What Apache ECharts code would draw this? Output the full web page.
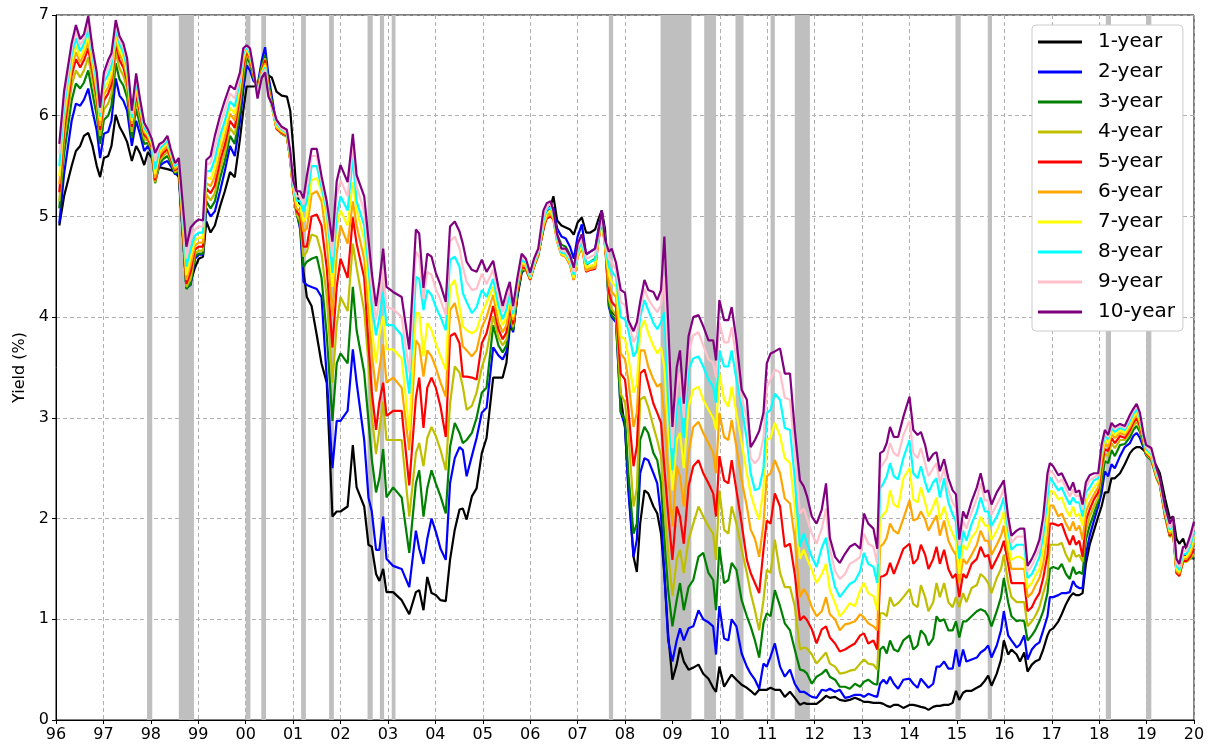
<!DOCTYPE html>
<html><head><meta charset="utf-8">
<script src="https://cdn.jsdelivr.net/npm/echarts@6/dist/echarts.min.js"></script>
<style>html,body{margin:0;padding:0;background:#fff}#c{width:1215px;height:749px}</style>
</head><body><div id="c"></div>
<script>
const dates = [
1996.07,1996.17,1996.33,1996.42,1996.51,1996.59,1996.68,1996.77,1996.86,1996.93,
1997.01,1997.10,1997.17,1997.26,1997.34,1997.42,1997.50,1997.60,1997.69,1997.77,
1997.86,1997.94,1998.02,1998.09,1998.18,1998.26,1998.35,1998.42,1998.51,1998.59,
1998.75,1998.84,1998.93,1999.01,1999.10,1999.17,1999.26,
1999.35,1999.46,1999.56,1999.67,1999.77,1999.88,1999.95,2000.02,2000.09,2000.16,
2000.25,2000.34,2000.41,2000.48,2000.55,2000.65,2000.76,2000.87,2000.94,2001.00,
2001.07,2001.15,2001.22,2001.29,2001.39,2001.50,2001.60,2001.71,2001.83,2001.92,
2002.00,2002.15,2002.26,2002.34,2002.50,2002.59,2002.66,2002.75,2002.82,2002.90,
2002.97,2003.11,2003.29,2003.45,2003.59,2003.66,2003.75,2003.83,2003.92,2004.01,
2004.11,2004.22,2004.31,2004.41,2004.51,2004.58,2004.66,2004.77,2004.87,2004.98,
2005.08,
2005.22,2005.33,2005.42,2005.50,2005.57,2005.64,2005.73,2005.82,2005.91,2006.00,
2006.08,2006.17,2006.28,2006.35,2006.43,2006.49,2006.57,2006.66,2006.75,2006.84,
2006.92,2007.00,2007.09,2007.18,2007.27,2007.37,2007.43,2007.51,2007.58,2007.66,
2007.72,2007.81,
2007.91,2008.00,2008.07,2008.18,2008.25,2008.32,2008.41,2008.49,2008.60,2008.68,
2008.76,2008.83,2008.91,2009.00,2009.09,2009.16,2009.24,2009.34,2009.44,2009.55,
2009.65,2009.76,2009.86,2009.92,2009.99,2010.09,2010.18,2010.25,2010.35,2010.46,
2010.57,2010.65,2010.74,2010.83,2010.92,2010.99,2011.07,2011.16,2011.27,2011.37,
2011.48,2011.58,2011.69,2011.77,2011.84,2011.94,2012.04,2012.15,2012.24,2012.32,
2012.43,2012.53,2012.64,2012.74,2012.85,2012.96,2013.04,2013.13,2013.24,2013.32,
2013.38,2013.45,2013.52,2013.59,2013.67,2013.76,2013.87,
2014.00,2014.08,2014.17,2014.24,2014.33,2014.40,2014.50,2014.57,2014.64,2014.73,
2014.82,2014.91,2014.98,2015.05,2015.13,2015.20,2015.31,2015.42,2015.50,2015.59,
2015.66,2015.73,2015.84,2015.93,2015.99,2016.08,2016.15,2016.26,2016.33,2016.42,
2016.49,2016.58,2016.65,2016.74,2016.82,2016.91,
2016.96,2017.03,2017.14,2017.21,2017.30,2017.38,2017.45,2017.51,2017.58,2017.65,
2017.72,2017.80,2017.89,2017.98,2018.05,2018.12,2018.19,2018.26,2018.33,2018.44,
2018.54,2018.65,2018.72,2018.79,2018.86,2018.94,2018.99,2019.10,2019.21,2019.28,
2019.39,2019.49,2019.56,2019.63,2019.69,2019.77,2019.84,2019.92,2020.00
];

const y1 = [
4.91,5.20,5.50,5.65,5.70,5.80,5.83,5.70,5.50,5.39, 5.58,5.60,5.70,6.01,5.89,5.82,5.74,5.55,5.70,5.63, 5.51,5.64,5.58,5.51,5.49,5.48,5.47,5.46,5.44,5.39, 4.30,4.35,4.49,4.58,4.60,4.95,4.84,
4.91,5.10,5.25,5.44,5.39,5.77,6.05,6.29,6.29,6.29, 6.30,6.38,6.42,6.40,6.38,6.24,6.20,6.19,6.05,5.70, 5.25,5.10,4.45,4.20,4.11,3.82,3.54,3.35,2.02,2.07,
2.07,2.12,2.73,2.31,2.12,1.74,1.72,1.45,1.38,1.50, 1.27,1.27,1.19,1.05,1.27,1.29,1.09,1.42,1.26,1.24, 1.19,1.18,1.59,1.89,2.09,2.10,1.99,2.22,2.30,2.65, 2.80,
3.40,3.40,3.40,3.55,3.90,3.87,4.20,4.44,4.49,4.44, 4.56,4.63,4.87,5.06,5.10,5.20,4.96,4.91,4.89,4.87, 4.82,4.94,4.99,4.84,4.84,4.87,4.96,5.06,4.87,4.15, 4.06,4.01,
3.20,2.90,2.35,1.62,1.47,1.95,2.28,2.25,2.12,2.05, 1.85,1.45,0.85,0.40,0.55,0.72,0.58,0.50,0.52,0.55, 0.46,0.41,0.32,0.28,0.53,0.33,0.40,0.45,0.40,0.35, 0.32,0.29,0.25,0.30,0.30,0.30,0.32,0.30,0.30,0.23,
0.28,0.22,0.15,0.17,0.16,0.16,0.16,0.20,0.24,0.22, 0.23,0.20,0.19,0.20,0.22,0.20,0.18,0.18,0.17,0.17, 0.17,0.16,0.14,0.13,0.15,0.15,0.12,
0.15,0.15,0.14,0.13,0.12,0.10,0.13,0.14,0.14,0.15, 0.15,0.17,0.29,0.20,0.27,0.29,0.29,0.32,0.34,0.39, 0.44,0.34,0.46,0.60,0.79,0.65,0.70,0.65,0.58,0.67, 0.48,0.55,0.58,0.60,0.70,0.84,
0.89,0.91,0.98,1.05,1.15,1.22,1.26,1.24,1.24,1.26, 1.55,1.74,1.88,2.02,2.12,2.26,2.26,2.40,2.40,2.45, 2.54,2.65,2.69,2.71,2.71,2.68,2.65,2.60,2.52,2.45, 2.20,2.00,2.02,1.80,1.75,1.80,1.70,1.62,1.60
];
const y2 = [
4.93,5.42,5.95,6.12,6.10,6.16,6.27,6.05,5.85,5.58, 5.82,5.84,5.95,6.37,6.20,6.15,6.05,5.70,5.95,5.82, 5.65,5.70,5.62,5.35,5.50,5.53,5.55,5.50,5.42,5.43, 4.29,4.32,4.58,4.62,4.62,5.08,5.00,
5.05,5.25,5.45,5.70,5.60,5.95,6.25,6.50,6.45,6.35, 6.30,6.55,6.68,6.40,6.20,5.90,5.82,5.80,5.60,5.30, 5.05,4.87,4.35,4.32,4.30,4.28,4.20,3.40,2.50,2.97,
2.97,3.07,3.68,3.35,2.78,2.21,2.07,1.69,1.69,2.02, 1.60,1.53,1.50,1.32,1.88,1.70,1.55,1.80,2.00,1.87, 1.70,1.59,2.35,2.60,2.71,2.68,2.42,2.62,2.80,3.05, 3.10,
3.70,3.62,3.58,3.66,3.95,3.85,4.22,4.45,4.48,4.40, 4.52,4.62,4.90,5.05,5.10,5.08,4.88,4.80,4.78,4.70, 4.58,4.80,4.92,4.62,4.65,4.68,4.85,5.05,4.80,4.10, 4.00,3.95,
3.06,2.92,2.28,1.62,1.79,2.45,2.60,2.58,2.45,2.35, 2.02,1.46,0.79,0.58,0.79,0.91,0.79,0.91,0.93,1.09, 1.00,0.97,0.93,0.65,1.13,0.81,0.79,1.00,0.93,0.66, 0.53,0.46,0.40,0.31,0.56,0.53,0.63,0.76,0.53,0.43,
0.50,0.36,0.28,0.28,0.26,0.23,0.22,0.30,0.29,0.31, 0.28,0.30,0.22,0.23,0.25,0.25,0.23,0.26,0.24,0.23, 0.36,0.40,0.36,0.43,0.36,0.31,0.40,
0.41,0.36,0.32,0.41,0.36,0.32,0.36,0.53,0.53,0.58, 0.51,0.51,0.70,0.53,0.70,0.58,0.60,0.62,0.67,0.70, 0.74,0.62,0.74,0.89,1.08,0.84,0.79,0.72,0.75,0.84, 0.60,0.70,0.74,0.77,0.89,1.03,
1.22,1.22,1.24,1.26,1.26,1.27,1.38,1.33,1.31,1.31, 1.64,1.83,1.98,2.12,2.25,2.47,2.42,2.54,2.50,2.62, 2.71,2.75,2.82,2.85,2.80,2.70,2.63,2.58,2.42,2.35, 2.05,1.85,1.88,1.55,1.50,1.65,1.62,1.62,1.60
];
const y3 = [
5.08,5.62,6.15,6.32,6.27,6.33,6.45,6.22,6.00,5.72, 5.96,6.00,6.10,6.52,6.36,6.30,6.18,5.78,6.07,5.91, 5.72,5.73,5.65,5.33,5.52,5.57,5.60,5.53,5.43,5.45, 4.28,4.33,4.60,4.63,4.63,5.15,5.08,
5.15,5.38,5.55,5.80,5.72,6.05,6.35,6.58,6.52,6.38, 6.28,6.50,6.60,6.33,6.15,5.88,5.82,5.79,5.57,5.28, 5.03,4.90,4.50,4.55,4.58,4.60,4.39,3.82,2.97,3.54,
3.64,3.54,4.30,3.87,3.45,2.97,2.59,2.26,2.40,2.69, 2.21,2.31,2.21,1.66,2.35,2.48,2.02,2.30,2.48,2.35, 2.22,2.05,2.71,2.95,2.85,2.75,2.78,2.85,3.00,3.25, 3.30,
3.92,3.72,3.65,3.72,4.00,3.87,4.24,4.46,4.47,4.38, 4.50,4.61,4.90,5.02,5.07,5.03,4.82,4.72,4.70,4.62, 4.47,4.70,4.82,4.52,4.55,4.58,4.78,5.02,4.75,4.12, 4.02,3.97,
3.06,2.98,2.45,1.85,1.95,2.78,2.91,2.85,2.65,2.58, 2.35,1.79,1.29,0.93,1.19,1.36,1.09,1.32,1.39,1.62, 1.66,1.46,1.39,1.09,1.72,1.36,1.39,1.56,1.49,1.19, 1.03,0.93,0.79,0.62,0.96,1.06,1.03,1.29,1.13,0.96,
0.89,0.70,0.50,0.49,0.46,0.36,0.43,0.46,0.50,0.43, 0.40,0.33,0.33,0.31,0.36,0.33,0.38,0.40,0.36,0.35, 0.70,0.73,0.66,0.79,0.70,0.68,0.79,
0.84,0.70,0.74,0.89,0.84,0.74,0.81,1.03,0.98,1.00, 0.89,0.89,0.98,0.82,0.98,0.98,1.03,1.08,1.10,1.08, 1.03,0.93,1.08,1.22,1.41,1.17,1.03,0.98,0.99,0.98, 0.79,0.84,0.89,0.98,1.08,1.26,
1.50,1.52,1.50,1.55,1.45,1.40,1.52,1.45,1.47,1.45, 1.79,1.93,2.05,2.17,2.35,2.57,2.55,2.68,2.62,2.73, 2.74,2.81,2.88,2.92,2.86,2.72,2.63,2.58,2.40,2.33, 2.02,1.82,1.86,1.48,1.45,1.58,1.58,1.60,1.62
];
const y4 = [
5.15,5.75,6.30,6.45,6.38,6.45,6.58,6.35,6.10,5.80, 6.06,6.12,6.22,6.63,6.47,6.40,6.27,5.84,6.15,5.98, 5.77,5.75,5.67,5.34,5.55,5.60,5.64,5.56,5.44,5.47, 4.30,4.38,4.63,4.66,4.66,5.22,5.16,
5.23,5.47,5.63,5.88,5.81,6.13,6.42,6.62,6.55,6.40, 6.26,6.47,6.57,6.30,6.12,5.87,5.82,5.79,5.56,5.27, 5.03,4.95,4.60,4.65,4.82,4.80,4.63,4.20,3.35,3.92,
4.20,4.06,4.73,4.49,4.06,3.54,3.02,2.64,2.88,3.16, 2.78,2.78,2.78,2.02,2.65,2.75,2.52,2.80,2.91,2.82, 2.68,2.48,3.14,3.51,3.45,3.31,3.08,3.12,3.25,3.50, 3.65,
4.01,3.80,3.72,3.78,4.05,3.90,4.26,4.48,4.47,4.37, 4.50,4.61,4.89,5.00,5.03,5.00,4.78,4.66,4.64,4.56, 4.40,4.63,4.75,4.47,4.50,4.52,4.74,4.99,4.72,4.18, 4.08,4.02,
3.24,3.15,2.85,2.12,2.30,3.18,3.21,3.11,2.91,2.78, 2.62,2.12,1.66,1.23,1.59,1.69,1.46,1.79,1.95,2.12, 2.02,1.92,1.85,1.59,2.28,1.89,1.85,2.12,1.95,1.69, 1.46,1.26,1.09,0.89,1.19,1.49,1.46,1.79,1.46,1.32,
1.32,1.13,0.70,0.72,0.71,0.65,0.56,0.62,0.67,0.56, 0.53,0.46,0.47,0.49,0.50,0.56,0.60,0.56,0.55,0.50, 1.06,1.06,1.03,1.22,1.13,1.16,1.22,
1.30,1.15,1.12,1.34,1.22,1.08,1.17,1.36,1.22,1.36, 1.17,1.12,1.22,1.12,1.26,1.17,1.31,1.34,1.45,1.41, 1.36,1.26,1.41,1.50,1.64,1.36,1.22,1.17,1.17,1.17, 0.93,0.98,1.03,1.12,1.26,1.41,
1.74,1.74,1.74,1.76,1.64,1.57,1.69,1.62,1.64,1.57, 1.88,2.02,2.12,2.21,2.45,2.64,2.62,2.75,2.70,2.78, 2.78,2.85,2.92,2.96,2.89,2.74,2.64,2.59,2.40,2.33, 2.02,1.82,1.86,1.46,1.43,1.57,1.57,1.60,1.65
];
const y5 = [
5.24,5.85,6.40,6.56,6.48,6.55,6.67,6.43,6.18,5.86, 6.15,6.22,6.31,6.71,6.55,6.48,6.34,5.89,6.22,6.03, 5.81,5.77,5.69,5.36,5.58,5.63,5.67,5.58,5.46,5.49, 4.33,4.45,4.67,4.70,4.70,5.28,5.23,
5.31,5.55,5.71,5.95,5.88,6.20,6.48,6.65,6.57,6.42, 6.24,6.45,6.55,6.27,6.10,5.87,5.83,5.80,5.56,5.27, 5.05,5.00,4.70,4.70,5.00,5.02,4.91,4.49,3.70,4.30,
4.58,4.39,4.99,4.73,4.39,3.73,3.26,2.88,3.16,3.35, 3.02,3.07,3.07,2.33,3.20,3.40,2.90,3.30,3.40,3.30, 3.11,2.81,3.81,3.84,3.74,3.41,3.41,3.40,3.38,3.74, 3.84,
4.11,3.88,3.78,3.85,4.10,3.93,4.28,4.50,4.48,4.37, 4.50,4.62,4.88,4.98,5.00,4.97,4.75,4.62,4.60,4.52, 4.37,4.60,4.70,4.45,4.47,4.48,4.72,4.97,4.70,4.25, 4.15,4.10,
3.44,3.38,3.08,2.52,2.72,3.44,3.48,3.34,3.14,3.05, 2.95,2.50,2.05,1.59,2.12,2.02,1.75,2.32,2.52,2.58, 2.45,2.35,2.25,2.02,2.62,2.38,2.35,2.58,2.28,1.95, 1.59,1.46,1.36,1.26,1.69,1.98,1.95,2.25,2.12,1.72,
1.75,1.45,0.99,1.03,0.99,0.90,0.76,0.90,0.93,0.82, 0.76,0.68,0.70,0.73,0.76,0.84,0.86,0.76,0.79,0.70, 1.42,1.43,1.45,1.56,1.45,1.56,1.70,
1.75,1.55,1.60,1.74,1.64,1.50,1.60,1.72,1.55,1.69, 1.50,1.41,1.45,1.22,1.45,1.41,1.55,1.60,1.72,1.62, 1.64,1.50,1.60,1.69,1.78,1.55,1.36,1.36,1.36,1.36, 1.08,1.12,1.19,1.26,1.41,1.64,
1.95,1.95,1.93,1.95,1.83,1.74,1.83,1.74,1.78,1.62, 1.98,2.09,2.19,2.26,2.52,2.69,2.67,2.80,2.75,2.82, 2.80,2.88,2.95,3.00,2.92,2.76,2.65,2.60,2.41,2.34, 2.03,1.83,1.87,1.46,1.43,1.58,1.58,1.62,1.70
];
const y6 = [
5.32,5.93,6.47,6.63,6.53,6.61,6.73,6.49,6.23,5.90, 6.21,6.28,6.37,6.76,6.61,6.53,6.39,5.92,6.27,6.06, 5.84,5.79,5.71,5.38,5.61,5.66,5.70,5.60,5.47,5.51, 4.37,4.52,4.71,4.74,4.74,5.33,5.30,
5.40,5.63,5.79,6.02,5.95,6.26,6.53,6.67,6.58,6.44, 6.22,6.44,6.52,6.25,6.09,5.88,5.84,5.81,5.57,5.28, 5.08,5.05,4.85,4.88,5.22,5.25,5.15,4.77,4.01,4.63,
4.91,4.73,5.15,4.91,4.58,4.06,3.64,3.26,3.49,3.73, 3.35,3.40,3.30,2.68,3.77,3.72,3.41,3.67,3.61,3.50, 3.35,3.21,4.07,4.14,3.94,3.71,3.67,3.61,3.67,3.90, 4.00,
4.22,3.95,3.85,3.92,4.15,3.97,4.30,4.52,4.50,4.38, 4.51,4.63,4.90,5.00,5.02,4.98,4.75,4.62,4.60,4.52, 4.37,4.60,4.70,4.46,4.48,4.49,4.73,4.98,4.70,4.32, 4.25,4.20,
3.64,3.58,3.38,2.91,3.05,3.67,3.67,3.51,3.38,3.31, 3.34,3.00,2.45,1.92,2.52,2.42,2.12,2.65,2.91,2.96, 2.85,2.75,2.65,2.45,3.05,2.81,2.78,2.98,2.71,2.38, 2.12,1.89,1.80,1.62,1.95,2.42,2.45,2.58,2.45,2.20,
2.15,1.80,1.22,1.30,1.25,1.12,1.03,1.08,1.22,1.05, 1.00,0.89,0.95,0.96,0.98,1.05,1.02,0.96,0.93,0.89, 1.72,1.75,1.81,1.95,1.88,1.85,2.00,
2.18,1.98,2.00,2.07,1.99,1.88,1.97,2.03,1.83,1.98, 1.78,1.69,1.64,1.36,1.60,1.55,1.64,1.74,1.88,1.78, 1.78,1.64,1.74,1.83,1.93,1.64,1.50,1.50,1.50,1.50, 1.22,1.26,1.33,1.41,1.55,1.83,
2.13,2.13,2.02,2.05,1.95,1.88,1.97,1.88,1.93,1.79, 2.07,2.16,2.24,2.31,2.58,2.74,2.71,2.84,2.80,2.85, 2.83,2.91,2.98,3.03,2.95,2.78,2.66,2.61,2.42,2.35, 2.05,1.85,1.89,1.48,1.45,1.60,1.60,1.65,1.76
];
const y7 = [
5.40,6.01,6.53,6.70,6.58,6.66,6.79,6.54,6.27,5.95, 6.27,6.34,6.43,6.81,6.66,6.58,6.43,5.95,6.31,6.09, 5.86,5.81,5.73,5.42,5.64,5.69,5.73,5.62,5.49,5.53, 4.42,4.60,4.76,4.79,4.79,5.39,5.37,
5.48,5.72,5.87,6.08,6.02,6.31,6.57,6.68,6.60,6.46, 6.21,6.42,6.50,6.23,6.09,5.90,5.85,5.82,5.58,5.30, 5.12,5.10,4.95,5.00,5.36,5.38,5.25,4.96,4.30,4.91,
5.06,4.91,5.34,5.06,4.77,4.30,3.87,3.54,3.82,4.01, 3.68,3.68,3.59,2.87,4.04,4.04,3.61,3.94,3.87,3.74, 3.61,3.48,4.30,4.37,4.10,3.91,3.87,3.84,3.87,4.04, 4.14,
4.30,4.05,3.92,4.00,4.20,4.00,4.32,4.55,4.52,4.39, 4.52,4.64,4.93,5.03,5.06,5.00,4.76,4.63,4.61,4.54, 4.39,4.62,4.72,4.49,4.51,4.52,4.75,5.00,4.71,4.42, 4.35,4.30,
3.81,3.78,3.61,3.25,3.34,3.87,3.97,3.84,3.71,3.64, 3.70,3.50,2.91,2.28,2.78,2.85,2.50,3.11,3.28,3.31, 3.18,3.08,3.00,2.88,3.44,3.18,3.11,3.31,3.05,2.75, 2.45,2.25,2.10,1.99,2.30,2.78,2.80,2.95,2.82,2.60,
2.55,2.10,1.60,1.69,1.60,1.49,1.36,1.45,1.55,1.29, 1.16,1.03,1.09,1.16,1.13,1.29,1.36,1.26,1.23,1.09, 2.00,2.04,2.08,2.28,2.14,2.11,2.40,
2.50,2.19,2.16,2.31,2.16,2.02,2.12,2.21,1.99,2.12, 1.95,1.85,1.78,1.45,1.74,1.69,1.81,1.88,2.02,1.93, 1.93,1.79,1.88,1.98,2.07,1.74,1.59,1.62,1.62,1.59, 1.31,1.36,1.43,1.50,1.69,2.02,
2.27,2.27,2.19,2.21,2.09,2.02,2.12,2.02,2.05,1.93, 2.17,2.24,2.31,2.36,2.63,2.78,2.75,2.87,2.83,2.88, 2.85,2.94,3.01,3.06,2.97,2.79,2.67,2.62,2.43,2.36, 2.07,1.87,1.91,1.50,1.47,1.62,1.62,1.68,1.82
];
const y8 = [
5.50,6.08,6.60,6.77,6.64,6.72,6.86,6.59,6.32,5.99, 6.33,6.41,6.50,6.86,6.71,6.63,6.48,5.98,6.35,6.12, 5.88,5.83,5.75,5.47,5.67,5.71,5.75,5.64,5.50,5.55, 4.50,4.68,4.81,4.84,4.84,5.45,5.45,
5.57,5.80,5.95,6.14,6.09,6.35,6.61,6.69,6.62,6.47, 6.20,6.41,6.48,6.21,6.10,5.92,5.86,5.83,5.60,5.32, 5.16,5.15,5.05,5.15,5.50,5.50,5.29,5.06,4.44,5.01,
5.20,5.06,5.58,5.15,4.91,4.49,4.11,3.82,4.00,4.25, 3.92,3.92,3.82,3.24,4.40,4.38,4.07,4.27,4.22,4.10, 4.00,3.87,4.57,4.60,4.50,4.24,4.15,4.04,4.10,4.27, 4.20,
4.38,4.12,3.98,4.08,4.25,4.03,4.34,4.57,4.54,4.40, 4.54,4.65,4.96,5.07,5.09,5.02,4.78,4.64,4.63,4.56, 4.42,4.65,4.75,4.53,4.55,4.57,4.77,5.02,4.73,4.50, 4.45,4.40,
4.00,3.98,3.87,3.61,3.67,4.00,4.17,4.07,3.94,3.88, 3.95,4.05,3.18,2.48,3.11,3.20,2.80,3.48,3.59,3.61, 3.51,3.38,3.31,3.15,3.67,3.51,3.51,3.67,3.38,3.11, 2.78,2.45,2.28,2.30,2.50,3.05,3.08,3.24,3.18,2.90,
2.88,2.40,1.72,1.85,1.75,1.62,1.52,1.71,1.81,1.55, 1.32,1.22,1.29,1.35,1.38,1.48,1.66,1.55,1.52,1.36, 2.30,2.35,2.42,2.55,2.42,2.39,2.60,
2.78,2.45,2.40,2.52,2.36,2.26,2.36,2.40,2.21,2.40, 2.16,2.04,1.97,1.60,1.88,1.78,1.95,2.07,2.21,2.07, 2.07,1.93,2.02,2.12,2.21,1.88,1.69,1.74,1.74,1.74, 1.41,1.45,1.52,1.62,1.83,2.21,
2.41,2.36,2.28,2.31,2.21,2.14,2.21,2.16,2.16,2.02, 2.26,2.31,2.38,2.40,2.67,2.83,2.79,2.90,2.86,2.90, 2.88,2.97,3.04,3.09,3.00,2.80,2.69,2.64,2.45,2.37, 2.08,1.89,1.94,1.53,1.49,1.65,1.65,1.72,1.87
];
const y9 = [
5.62,6.16,6.66,6.84,6.70,6.77,6.92,6.63,6.38,6.03, 6.38,6.48,6.56,6.91,6.75,6.68,6.53,6.02,6.39,6.15, 5.91,5.85,5.76,5.55,5.70,5.73,5.78,5.66,5.52,5.56, 4.58,4.78,4.87,4.90,4.90,5.51,5.53,
5.68,5.90,6.05,6.22,6.17,6.39,6.64,6.70,6.64,6.48, 6.19,6.40,6.46,6.20,6.11,5.94,5.87,5.84,5.62,5.34, 5.20,5.20,5.12,5.28,5.60,5.60,5.35,5.10,4.60,5.20,
5.36,5.20,5.70,5.30,5.05,4.62,4.28,3.97,4.18,4.47, 4.10,4.08,4.00,3.45,4.65,4.60,4.18,4.45,4.42,4.28, 4.17,4.02,4.75,4.80,4.68,4.50,4.35,4.27,4.28,4.43, 4.33,
4.47,4.22,4.05,4.17,4.30,4.07,4.36,4.60,4.56,4.42, 4.56,4.66,5.00,5.10,5.12,5.04,4.80,4.66,4.65,4.58, 4.45,4.69,4.78,4.58,4.60,4.62,4.80,5.04,4.75,4.58, 4.55,4.47,
4.15,4.12,3.95,3.75,3.82,4.08,4.28,4.18,4.10,4.05, 4.12,4.40,3.60,2.70,3.30,3.45,3.00,3.65,3.82,3.85, 3.72,3.58,3.55,3.40,3.95,3.75,3.75,3.90,3.58,3.20, 3.00,2.60,2.55,2.60,2.80,3.30,3.38,3.48,3.45,3.20,
3.18,2.65,2.05,2.10,2.00,1.85,1.75,1.90,2.10,1.70, 1.48,1.40,1.45,1.55,1.58,1.62,1.85,1.75,1.72,1.55, 2.50,2.55,2.60,2.75,2.65,2.62,2.83,
2.97,2.65,2.60,2.70,2.55,2.42,2.50,2.55,2.35,2.50, 2.28,2.16,2.10,1.73,1.98,1.90,2.06,2.20,2.35,2.18, 2.18,2.04,2.14,2.22,2.30,1.95,1.76,1.82,1.82,1.82, 1.47,1.53,1.60,1.70,1.93,2.34,
2.48,2.45,2.36,2.39,2.30,2.22,2.29,2.22,2.23,2.09, 2.31,2.38,2.41,2.43,2.70,2.86,2.81,2.92,2.89,2.92, 2.90,3.00,3.07,3.12,3.02,2.82,2.71,2.66,2.47,2.38, 2.10,1.91,1.97,1.56,1.52,1.68,1.68,1.77,1.92
];
const y10 = [
5.72,6.24,6.72,6.90,6.76,6.81,6.99,6.67,6.43,6.08, 6.43,6.55,6.62,6.95,6.79,6.72,6.57,6.05,6.42,6.17, 5.93,5.86,5.77,5.63,5.72,5.74,5.80,5.67,5.53,5.58, 4.70,4.89,4.94,4.97,4.96,5.56,5.60,
5.80,6.00,6.15,6.30,6.26,6.43,6.67,6.70,6.67,6.48, 6.17,6.38,6.43,6.19,6.12,5.96,5.89,5.86,5.65,5.36, 5.25,5.25,5.18,5.40,5.67,5.67,5.40,5.15,4.75,5.35,
5.51,5.34,5.82,5.41,5.20,4.77,4.44,4.11,4.35,4.68, 4.30,4.25,4.20,3.68,4.87,4.83,4.29,4.63,4.60,4.44, 4.32,4.15,4.90,4.95,4.85,4.73,4.55,4.47,4.45,4.57, 4.45,
4.56,4.30,4.11,4.25,4.35,4.11,4.39,4.63,4.58,4.44, 4.58,4.68,5.06,5.13,5.15,5.06,4.82,4.68,4.68,4.61, 4.49,4.73,4.82,4.63,4.65,4.68,4.82,5.06,4.77,4.65, 4.68,4.54,
4.27,4.24,3.97,3.86,3.95,4.15,4.37,4.27,4.25,4.17, 4.27,4.80,3.95,2.91,3.50,3.67,3.14,3.81,4.00,4.02, 3.91,3.77,3.77,3.57,4.17,3.97,3.97,4.10,3.77,3.28, 3.18,2.71,2.78,2.87,3.05,3.54,3.64,3.66,3.69,3.44,
3.44,2.88,2.38,2.32,2.22,2.02,1.95,2.09,2.35,1.81, 1.62,1.56,1.65,1.72,1.75,1.70,2.05,1.95,1.90,1.70, 2.65,2.67,2.75,2.91,2.81,2.81,3.01,
3.21,2.88,2.83,2.86,2.73,2.57,2.64,2.66,2.47,2.59, 2.40,2.28,2.24,1.79,2.07,2.00,2.17,2.31,2.45,2.26, 2.28,2.14,2.26,2.33,2.38,2.02,1.83,1.88,1.90,1.90, 1.53,1.60,1.67,1.79,2.02,2.45,
2.55,2.52,2.43,2.45,2.36,2.28,2.36,2.26,2.28,2.14, 2.36,2.43,2.45,2.45,2.73,2.88,2.83,2.95,2.91,2.94, 2.92,3.03,3.09,3.14,3.05,2.83,2.73,2.70,2.50,2.40, 2.12,1.95,2.02,1.60,1.55,1.72,1.72,1.83,1.97
];

const seriesNames = ['1-year','2-year','3-year','4-year','5-year','6-year','7-year','8-year','9-year','10-year'];
const seriesColors = ['#000000','#0000ff','#008000','#bfbf00','#ff0000','#ffa500','#ffff00','#00ffff','#ffc0cb','#800080'];
const bands = [
[1997.92,1998.03],[1998.59,1998.91],[2000.00,2000.10],[2000.33,2000.43],[2001.17,2001.27],
[2001.76,2001.86],[2002.57,2002.68],[2002.83,2002.92],[2003.08,2003.16],[2007.66,2007.75],
[2008.75,2009.40],[2009.67,2009.92],[2010.33,2010.50],[2011.07,2011.16],[2011.58,2011.90],
[2014.97,2015.08],[2015.65,2015.74],[2018.14,2018.25],[2018.99,2019.10]
];

const allSeries = [y1,y2,y3,y4,y5,y6,y7,y8,y9,y10];
allSeries.forEach((a,k)=>{ if(a.length!==dates.length) console.error('length mismatch', k+1, a.length, dates.length); });

const FONT = 'DejaVu Sans';
const chart = echarts.init(document.getElementById('c'), null, {renderer:'canvas'});

const lineSeries = allSeries.map((arr,k)=>({
  name: seriesNames[k],
  type: 'line',
  data: dates.map((d,i)=>[d, arr[i]]),
  showSymbol: false,
  symbol: 'none',
  lineStyle: {color: seriesColors[k], width: 2.2},
  itemStyle: {color: seriesColors[k]},
  z: 3,
  animation: false
}));

const bandSeries = {
  type: 'custom',
  name: 'bands',
  data: bands,
  z: 1,
  silent: true,
  animation: false,
  encode: {x: [0,1]},
  renderItem: function(params, api){
    const p0 = api.coord([api.value(0), 7]);
    const p1 = api.coord([api.value(1), 0]);
    return {type:'rect', shape:{x:p0[0], y:p0[1], width:p1[0]-p0[0], height:p1[1]-p0[1]}, style:{fill:'#bfbfbf'}};
  }
};

chart.setOption({
  animation: false,
  backgroundColor: '#ffffff',
  grid: {left:56, right:21, top:15, bottom:29, show:true, borderColor:'#000', borderWidth:1, backgroundColor:'transparent'},
  xAxis: {
    type:'value', min:1996, max:2020, interval:1,
    axisLine:{show:true, onZero:false, lineStyle:{color:'#000', width:1}},
    axisTick:{show:true, length:4, lineStyle:{color:'#000'}},
    axisLabel:{fontSize:16, color:'#000', fontFamily:FONT, margin:7,
      formatter: v => String(Math.round(v)%100).padStart(2,'0')},
    splitLine:{show:true, lineStyle:{type:[4,3], color:'#b0b0b0', width:1}}
  },
  yAxis: {
    type:'value', min:0, max:7, interval:1,
    name:'Yield (%)', nameLocation:'middle', nameGap:27,
    nameTextStyle:{fontSize:16, color:'#000', fontFamily:FONT},
    axisLine:{show:true, lineStyle:{color:'#000', width:1}},
    axisTick:{show:true, length:4, lineStyle:{color:'#000'}},
    axisLabel:{fontSize:16, color:'#000', fontFamily:FONT, margin:7},
    splitLine:{show:true, lineStyle:{type:[4,3], color:'#b0b0b0', width:1}}
  },
  legend: {
    data: seriesNames.map(n => ({name:n, icon:'rect'})), orient:'vertical', left:1032, top:25,
    itemWidth:44, itemHeight:3, itemGap:10,
    textStyle:{fontSize:20, color:'#000', fontFamily:FONT, padding:[0,0,0,11], lineHeight:20},
    backgroundColor:'#ffffff', borderColor:'#cccccc', borderWidth:1, borderRadius:4,
    padding:[7,8,9,6], selectedMode:false
  },
  series: [bandSeries].concat(lineSeries)
});
</script>
</body></html>
